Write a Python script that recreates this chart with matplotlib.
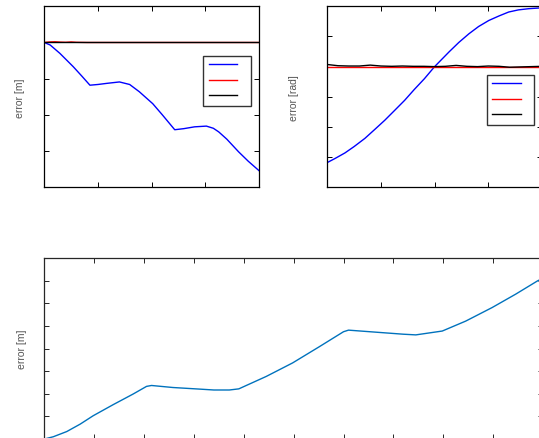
import numpy as np
import matplotlib
matplotlib.use("Agg")
import matplotlib.pyplot as plt

plt.rcParams['font.family'] = ['Liberation Sans', 'DejaVu Sans']

# --- top left : position error ---
tl_x = [0, 0.11, 0.29, 0.54, 0.7, 0.85, 1.0, 1.16, 1.40, 1.59, 1.77, 2.02, 2.2,
        2.43, 2.6, 2.8, 3.02, 3.15, 3.25, 3.4, 3.62, 3.8, 4.0]
tl_blue = [0, -0.07, -0.30, -0.67, -0.93, -1.18, -1.16, -1.13, -1.09, -1.16, -1.36,
           -1.69, -2.0, -2.41, -2.38, -2.33, -2.31, -2.37, -2.47, -2.67, -3.02, -3.28, -3.54]
tl_red_x = [0, 0.1, 0.2, 0.3, 0.4, 0.5, 0.6, 0.8, 1.0, 2.0, 3.0, 4.0]
tl_red = [0, 0.015, 0.02, 0.01, 0.005, 0.015, 0.005, 0, 0, 0, 0, 0]
tl_black_x = [0, 4]
tl_black = [0, 0]

# --- top right : heading error ---
tr_x = [0, 0.15, 0.33, 0.5, 0.70, 0.88, 1.07, 1.25, 1.44, 1.62, 1.81, 2.0, 2.27,
        2.45, 2.64, 2.82, 3.01, 3.2, 3.38, 3.56, 3.75, 3.92, 4.0]
tr_blue = [-3.18, -3.04, -2.86, -2.65, -2.38, -2.09, -1.78, -1.46, -1.12, -0.76, -0.40,
           0, 0.49, 0.8, 1.09, 1.33, 1.53, 1.68, 1.81, 1.88, 1.92, 1.94, 1.95]
tr_red_x = [0, 4]
tr_red = [0, 0]
tr_black_x = [0, 0.2, 0.4, 0.6, 0.8, 1.0, 1.2, 1.4, 1.6, 1.8, 2.0, 2.2, 2.4, 2.6,
              2.8, 3.0, 3.2, 3.4, 3.6, 3.8, 4.0]
tr_black = [0.07, 0.03, 0.02, 0.02, 0.05, 0.02, 0.01, 0.02, 0.01, 0.01, 0.0, 0.01,
            0.04, 0.01, 0.0, 0.02, 0.01, -0.02, -0.01, 0.0, 0.01]

# --- bottom : distance error ---
bt_x = [0, 0.18, 0.45, 0.72, 0.98, 1.38, 1.78, 2.05, 2.15, 2.58, 3.11, 3.4, 3.71,
        3.9, 4.05, 4.45, 4.98, 5.51, 6.0, 6.1, 6.71, 7.2, 7.45, 7.98, 8.45, 8.98,
        9.45, 9.89, 10.0]
bt_y = [0, 0.1, 0.33, 0.66, 1.03, 1.52, 1.99, 2.33, 2.37, 2.28, 2.21, 2.17, 2.17,
        2.22, 2.37, 2.77, 3.37, 4.08, 4.75, 4.82, 4.72, 4.64, 4.61, 4.78, 5.22, 5.82,
        6.41, 7.0, 7.12]

fig = plt.figure(figsize=(5.39, 4.39), dpi=100)

def style(ax, xlim, ylim, color):
    ax.set_xlim(*xlim)
    ax.set_ylim(*ylim)
    ax.set_xticks(np.arange(xlim[0], xlim[1] + 0.001, 1))
    ax.set_yticks(np.arange(ylim[0], ylim[1] + 0.001, 1))
    ax.tick_params(direction='in', length=3.5, width=0.7, top=True, right=True,
                   labelbottom=False, labelleft=False, colors=color)
    for s in ax.spines.values():
        s.set_color(color)
        s.set_linewidth(0.9)

def legend(ax, x, y, handles):
    leg = ax.legend(handles, ['', '', ''], loc='upper left', bbox_to_anchor=(x, y),
                    borderaxespad=0, fontsize=5.2, handlelength=3.9, handletextpad=1.1,
                    borderpad=0.8, labelspacing=1.2, fancybox=False, framealpha=1)
    leg.get_frame().set_edgecolor('#333333')
    leg.get_frame().set_linewidth(1.0)

lab = dict(fontsize=7.5, color='#555555', va='center')

ax1 = fig.add_axes([0.0822, 0.5711, 0.3983, 0.4123])
b, = ax1.plot(tl_x, tl_blue, color='#0000ff', lw=1.0)
r, = ax1.plot(tl_red_x, tl_red, color='#ff0000', lw=1.0)
k, = ax1.plot(tl_black_x, tl_black, color='k', lw=1.0)
style(ax1, (0, 4), (-4, 1), 'k')
ax1.set_ylabel('error [m]', **lab)
ax1.yaxis.set_label_coords(-0.115, 0.5)
legend(ax1, 0.741, 0.727, [b, r, k])

ax2 = fig.add_axes([0.6072, 0.5711, 0.3983, 0.4123])
b, = ax2.plot(tr_x, tr_blue, color='#0000ff', lw=1.0)
r, = ax2.plot(tr_red_x, tr_red, color='#ff0000', lw=1.0)
k, = ax2.plot(tr_black_x, tr_black, color='k', lw=1.0)
style(ax2, (0, 4), (-4, 2), 'k')
ax2.set_ylabel('error [rad]', **lab)
ax2.yaxis.set_label_coords(-0.155, 0.5)
legend(ax2, 0.742, 0.623, [b, r, k])

ax3 = fig.add_axes([0.0822, -0.0023, 0.9252, 0.4116])
ax3.plot(bt_x, bt_y, color='#0072BD', lw=1.0)
style(ax3, (0, 10), (0, 8), '#262626')
ax3.set_ylabel('error [m]', **lab)
ax3.yaxis.set_label_coords(-0.045, 0.5)

fig.savefig('out.png', dpi=100)
